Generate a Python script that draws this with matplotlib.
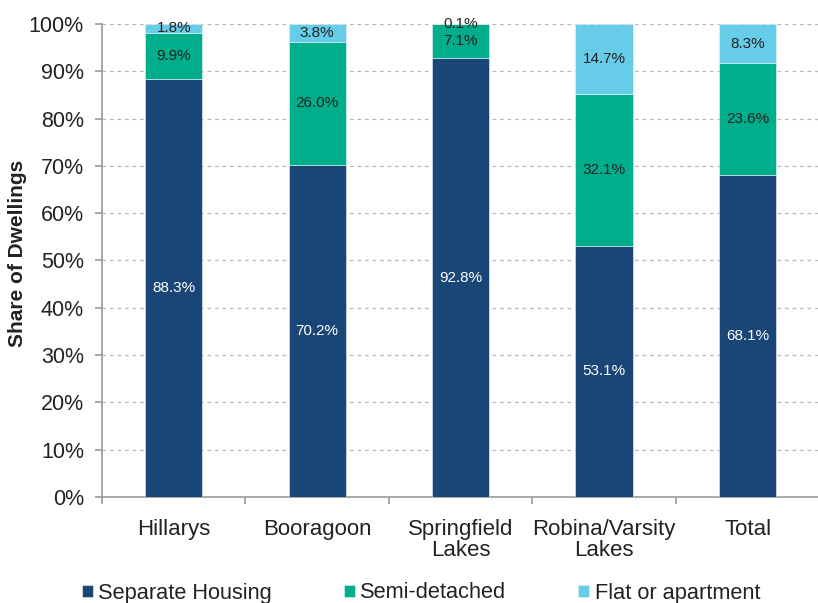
import matplotlib
matplotlib.use("Agg")
import matplotlib.pyplot as plt
import numpy as np
from matplotlib.ticker import PercentFormatter

plt.rcParams['font.family'] = ['Liberation Sans', 'DejaVu Sans']

suburbs = ["Hillarys", "Booragoon", "Springfield\nLakes", "Robina/Varsity\nLakes", "Total"]
separate = [88.3, 70.2, 92.8, 53.1, 68.1]
semi = [9.9, 26.0, 7.1, 32.1, 23.6]
flat = [1.8, 3.8, 0.1, 14.7, 8.3]

series = [("Separate Housing", separate, "#1a4577", "white"),
          ("Semi-detached", semi, "#00ae8c", "#222222"),
          ("Flat or apartment", flat, "#66cce8", "#222222")]

fig = plt.figure(figsize=(8.18, 6.03), dpi=100)
ax = fig.add_axes([0.1247, 0.1758, 0.8770, 0.7844])

x = np.arange(len(suburbs))
bottom = np.zeros(len(suburbs))
for name, vals, color, txt in series:
    vals = np.array(vals)
    ax.bar(x, vals, 0.40, bottom=bottom, color=color, label=name,
           edgecolor="#e8f4f8", linewidth=0.4, zorder=3)
    for xi, b, v in zip(x, bottom, vals):
        ax.text(xi, b + v / 2, f"{v:.1f}%", ha="center", va="center",
                fontsize=11, color=txt, zorder=4)
    bottom += vals

ax.set_xlim(-0.5, len(suburbs) - 0.5)
ax.set_ylim(0, 100)
ax.set_yticks(np.arange(0, 101, 10))
ax.yaxis.set_major_formatter(PercentFormatter(decimals=0))
ax.grid(axis="y", linestyle=(0, (3, 3)), color="#b8b8b8", linewidth=0.9, zorder=0)

ax.set_xticks(x)
ax.set_xticklabels(suburbs, linespacing=1.0)
ax.set_xticks(np.arange(-0.5, len(suburbs), 1), minor=True)
ax.tick_params(axis="x", which="major", length=0, labelsize=16, pad=16, colors="#222222")
ax.tick_params(axis="x", which="minor", length=5, color="#999999", width=1.2)
ax.tick_params(axis="y", length=5, color="#999999", width=1.2, labelsize=15.5,
               labelcolor="#222222", pad=8)

for side in ["top", "right"]:
    ax.spines[side].set_visible(False)
for side in ["left", "bottom"]:
    ax.spines[side].set_color("#999999")
    ax.spines[side].set_linewidth(1.2)

ax.set_ylabel("Share of Dwellings", fontsize=15, fontweight="bold", color="#222222")
ax.yaxis.set_label_coords(-0.104, 0.515)

fig.legend(loc="center left", bbox_to_anchor=(0.100, 1 - 593 / 603), ncol=3, frameon=False,
           fontsize=15.7, handlelength=0.5, handleheight=0.5, handletextpad=0.25,
           columnspacing=3.3, labelcolor="#222222", borderpad=0, borderaxespad=0)

fig.savefig("out.png", dpi=100)
